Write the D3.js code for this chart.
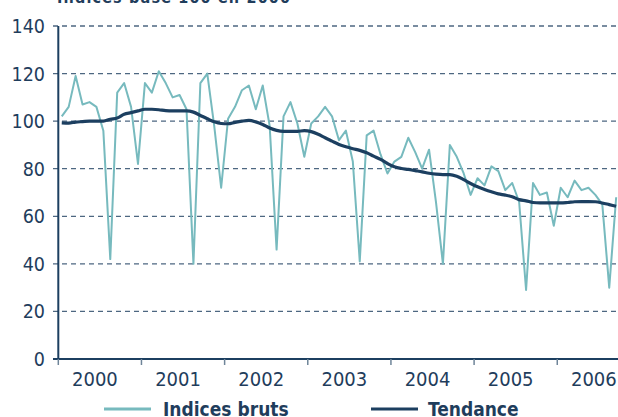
<!DOCTYPE html>
<html>
<head>
<meta charset="utf-8">
<script src="https://cdn.jsdelivr.net/npm/d3@7"></script>
<style>
	body { margin: 0; background: #ffffff; }
	text { font-family: "DejaVu Sans Condensed", "DejaVu Sans", sans-serif; fill: #1f3d5c; }
</style>
</head>
<body>
<div id="chart"></div>
<script>
//svg dimensions
var xSize = 618;
var ySize = 417;

//tick labels
var years = ["2000", "2001", "2002", "2003", "2004", "2005", "2006"];
var yTicks = [0, 20, 40, 60, 80, 100, 120, 140];

//monthly raw index, Jan 2000 - Sep 2006
var brut = [102, 106, 119, 107, 108, 106, 96, 42, 112, 116, 106, 82,
	116, 112, 121, 116, 110, 111, 105, 40, 116, 120, 98, 72,
	101, 106, 113, 115, 105, 115, 98, 46, 102, 108, 99, 85,
	99, 102, 106, 102, 92, 96, 83, 41, 94, 96, 86, 78,
	83, 85, 93, 87, 80, 88, 66, 40, 90, 85, 78, 69,
	76, 73, 81, 79, 71, 74, 66, 29, 74, 69, 70, 56,
	72, 68, 75, 71, 72, 69, 65, 30, 68];

//trend, same months
var tendance = [99.3, 99.2, 99.6, 99.8, 100, 100, 100, 100.8, 101.3, 102.9, 103.6, 104.3,
	105, 105, 104.8, 104.4, 104.3, 104.3, 104.3, 103.8, 102.4, 101, 99.7, 99,
	98.9, 99.5, 100, 100.3, 99.7, 98.6, 97.1, 96.1, 95.7, 95.7, 95.7, 96,
	95.6, 94.5, 93, 91.6, 90.2, 89.2, 88.4, 87.7, 86.7, 85.3, 83.9, 82.2,
	80.8, 80.1, 79.7, 79.2, 78.7, 78.1, 77.7, 77.5, 77.5, 76.8, 75.4, 73.8,
	72.4, 71.3, 70.3, 69.4, 68.9, 68.2, 67, 66.5, 65.8, 65.6, 65.6, 65.6,
	65.6, 65.8, 66.1, 66.2, 66.2, 66.1, 65.6, 64.9, 64.2];

var navy = "#1c3f60";
var teal = "#77babe";

var svg = d3.select("#chart").append("svg")
	.attr("width", xSize)
	.attr("height", ySize);

//x in months since Jan 2000, 7 years
var x = d3.scaleLinear().domain([0, 84]).range([58.3, 58.3 + 84 * 6.93]);
var y = d3.scaleLinear().domain([0, 140]).range([359, 26]);

//title, mostly cut off at the top
svg.append("text")
	.attr("x", 57)
	.attr("y", 2.5)
	.attr("font-size", 16)
	.attr("font-weight", "bold")
	.attr("textLength", 233)
	.text("Indices base 100 en 2000");

//dashed gridlines
svg.selectAll("line.grid")
	.data(yTicks.filter(function(v){ return v > 0; }))
	.enter()
	.append("line")
	.attr("class", "grid")
	.attr("x1", 53)
	.attr("x2", xSize)
	.attr("y1", function(v){ return y(v); })
	.attr("y2", function(v){ return y(v); })
	.attr("stroke", "#4d6781")
	.attr("stroke-width", 1.3)
	.attr("stroke-dasharray", "5,4");

//y labels
svg.selectAll("text.ylab")
	.data(yTicks)
	.enter()
	.append("text")
	.attr("class", "ylab")
	.attr("x", 45)
	.attr("y", function(v){ return y(v) + 7; })
	.attr("text-anchor", "end")
	.attr("font-size", 19.5)
	.text(function(v){ return v; });

//series
var rawLine = d3.line()
	.x(function(v, i){ return x(i + 0.5); })
	.y(function(v){ return y(v); });

var trendLine = d3.line()
	.x(function(v, i){ return x(i + 0.5); })
	.y(function(v){ return y(v); })
	.curve(d3.curveMonotoneX);

svg.append("path")
	.attr("d", rawLine(brut))
	.attr("fill", "none")
	.attr("stroke", teal)
	.attr("stroke-width", 2)
	.attr("stroke-linejoin", "round");

svg.append("path")
	.attr("d", trendLine(tendance))
	.attr("fill", "none")
	.attr("stroke", navy)
	.attr("stroke-width", 3.2);

//axes
svg.append("line")
	.attr("x1", x(0)).attr("x2", x(0))
	.attr("y1", y(140)).attr("y2", y(0))
	.attr("stroke", navy)
	.attr("stroke-width", 2);

svg.append("line")
	.attr("x1", 53).attr("x2", xSize)
	.attr("y1", y(0)).attr("y2", y(0))
	.attr("stroke", navy)
	.attr("stroke-width", 2);

//year ticks and labels
svg.selectAll("line.xtick")
	.data(years)
	.enter()
	.append("line")
	.attr("class", "xtick")
	.attr("x1", function(d, i){ return x(i * 12); })
	.attr("x2", function(d, i){ return x(i * 12); })
	.attr("y1", y(0))
	.attr("y2", y(0) + 6)
	.attr("stroke", "#6f8599")
	.attr("stroke-width", 1.5);

svg.selectAll("text.xlab")
	.data(years)
	.enter()
	.append("text")
	.attr("class", "xlab")
	.attr("x", function(d, i){ return x(i * 12 + 6) - 5; })
	.attr("y", 386)
	.attr("text-anchor", "middle")
	.attr("font-size", 20)
	.text(function(d){ return d; });

//legend
var legend = [["Indices bruts", teal, 104, 163], ["Tendance", navy, 371, 428]];
legend.forEach(function(l){
	svg.append("line")
		.attr("x1", l[2]).attr("x2", l[2] + 47)
		.attr("y1", 409).attr("y2", 409)
		.attr("stroke", l[1])
		.attr("stroke-width", 3);
	svg.append("text")
		.attr("x", l[3])
		.attr("y", 416)
		.attr("font-size", 19)
		.attr("font-weight", "bold")
		.text(l[0]);
});
</script>
</body>
</html>
